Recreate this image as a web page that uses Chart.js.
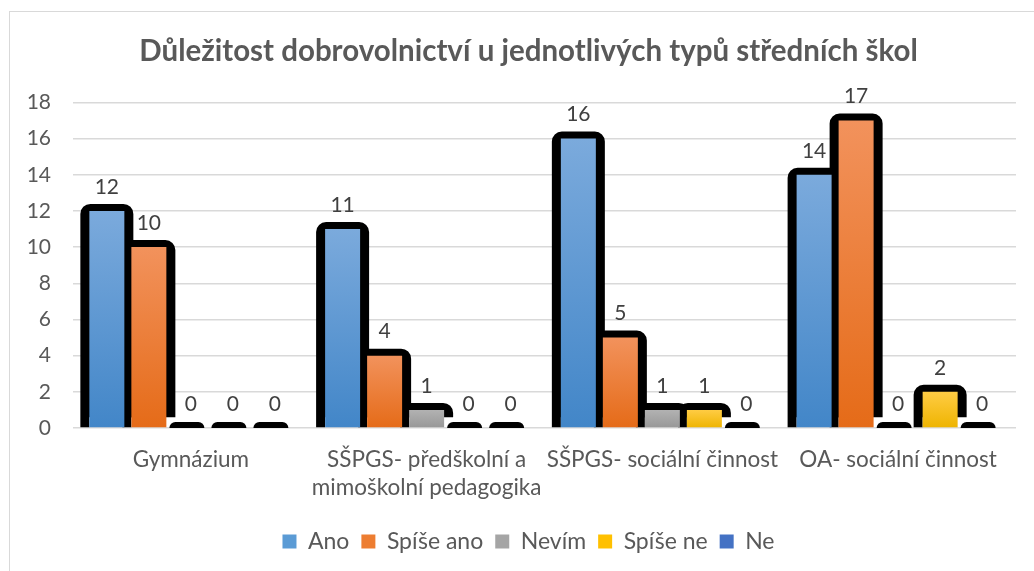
<!DOCTYPE html>
<html>
<head>
<meta charset="utf-8">
<script src="https://cdn.jsdelivr.net/npm/chart.js@4.4.1/dist/chart.umd.min.js"></script>
<style>
  html, body { margin: 0; padding: 0; background: #ffffff; }
  #wrap { position: relative; width: 1034px; height: 571px; }
</style>
</head>
<body>
<div id="wrap"><canvas id="c" width="1034" height="571"></canvas></div>
<script>
const categories = ["Gymnázium", ["SŠPGS- předškolní a", "mimoškolní pedagogika"], "SŠPGS- sociální činnost", "OA- sociální činnost"];
const seriesNames = ["Ano", "Spíše ano", "Nevím", "Spíše ne", "Ne"];
const ano = [12, 11, 16, 14];
const spiseAno = [10, 4, 5, 17];
const nevim = [0, 1, 1, 0];
const spiseNe = [0, 0, 1, 2];
const ne = [0, 0, 0, 0];
const yTicks = [0, 2, 4, 6, 8, 10, 12, 14, 16, 18];

const gradStops = [
  ["#7BAADC", "#4286C8"],
  ["#F2925C", "#E56B18"],
  ["#B2B2B2", "#979797"],
  ["#FFCC44", "#EEB400"],
  ["#4A78C8", "#2E5BAE"]
];
const legendColors = ["#5B9BD5", "#ED7D31", "#A5A5A5", "#FFC000", "#4472C4"];

const FONT = "Lato, 'Open Sans', sans-serif";
const TXT = "#595959";

function barGradient(i) {
  return function (ctx) {
    const chart = ctx.chart;
    if (!chart.chartArea || ctx.dataIndex === undefined) return legendColors[i];
    const y = chart.scales.y;
    const v = ctx.raw || 0;
    const top = y.getPixelForValue(v);
    const base = y.getPixelForValue(0);
    if (!(base - top > 0)) return gradStops[i][1];
    const g = chart.ctx.createLinearGradient(0, top, 0, base);
    g.addColorStop(0, gradStops[i][0]);
    g.addColorStop(1, gradStops[i][1]);
    return g;
  };
}

const values = [ano, spiseAno, nevim, spiseNe, ne];

const framePlugin = {
  id: "frame",
  beforeDraw(chart) {
    const c = chart.ctx;
    c.save();
    c.fillStyle = "#ffffff";
    c.fillRect(0, 0, chart.width, chart.height);
    c.strokeStyle = "#D9D9D9";
    c.lineWidth = 1;
    c.strokeRect(9.5, 11.5, 1100, 700);
    c.restore();
  }
};

const shadowPlugin = {
  id: "shadow",
  beforeDatasetsDraw(chart) {
    const c = chart.ctx;
    c.save();
    c.fillStyle = "#000000";
    chart.data.datasets.forEach((ds, di) => {
      const meta = chart.getDatasetMeta(di);
      meta.data.forEach((el, idx) => {
        const v = ds.data[idx];
        const w = el.width;
        const left = el.x - w / 2;
        const top = el.y;
        const base = el.base;
        c.beginPath();
        if (v > 0) {
          c.roundRect(left - 9, top - 7, w + 18, (base - 10) - (top - 7), [10, 10, 0, 0]);
          c.rect(left - 9, top + 3, 9, base - top - 3);
        } else {
          c.roundRect(left - 4, base - 6, w, 6, [7, 7, 0, 0]);
        }
        c.fill();
      });
    });
    c.restore();
  }
};

const labelPlugin = {
  id: "vlabels",
  afterDatasetsDraw(chart) {
    const c = chart.ctx;
    c.save();
    c.fillStyle = "#404040";
    c.font = "21px " + FONT;
    c.textAlign = "center";
    c.textBaseline = "middle";
    chart.data.datasets.forEach((ds, di) => {
      const meta = chart.getDatasetMeta(di);
      meta.data.forEach((el, idx) => {
        c.fillText(String(ds.data[idx]), el.x, el.y - 24);
      });
    });
    c.restore();
  }
};

new Chart(document.getElementById("c"), {
  type: "bar",
  data: {
    labels: categories,
    datasets: seriesNames.map((n, i) => ({
      label: n,
      data: values[i],
      backgroundColor: barGradient(i),
      borderWidth: 0,
      categoryPercentage: 0.891,
      barPercentage: 0.833
    }))
  },
  options: {
    responsive: false,
    animation: false,
    devicePixelRatio: 1,
    layout: { padding: { left: 0, right: -23, top: 0, bottom: 8 } },
    plugins: {
      title: {
        display: true,
        text: "Důležitost dobrovolnictví u jednotlivých typů středních škol",
        color: TXT,
        font: { family: FONT, size: 29.5, weight: "bold", lineHeight: 1.2 },
        padding: { top: 34, bottom: 33 }
      },
      legend: {
        position: "bottom",
        labels: {
          color: TXT,
          font: { family: FONT, size: 23 },
          boxWidth: 14,
          boxHeight: 14,
          padding: 12,
          generateLabels(chart) {
            return chart.data.datasets.map((ds, i) => ({
              text: ds.label,
              fillStyle: legendColors[i],
              strokeStyle: legendColors[i],
              lineWidth: 0,
              hidden: false,
              datasetIndex: i,
              fontColor: TXT
            }));
          }
        }
      },
      tooltip: { enabled: false }
    },
    scales: {
      x: {
        grid: { display: false, drawTicks: false },
        border: { display: false },
        ticks: {
          color: TXT,
          font: { family: FONT, size: 22.5, lineHeight: 1.24 },
          padding: 18,
          maxRotation: 0,
          autoSkip: false
        },
        afterFit(scale) { scale.height = 90; }
      },
      y: {
        min: 0,
        max: 18,
        afterBuildTicks(scale) { scale.ticks = yTicks.map(v => ({ value: v })); },
        grid: { color: "#D9D9D9", lineWidth: 1.5, drawTicks: false },
        border: { display: false },
        ticks: {
          color: TXT,
          font: { family: FONT, size: 21 },
          padding: 22
        },
        afterFit(scale) { scale.width = 73; }
      },
      yRight: {
        position: "right",
        min: 0,
        max: 18,
        grid: { display: false, drawTicks: false },
        border: { display: false },
        ticks: { display: false },
        afterFit(scale) { scale.width = 41; }
      }
    }
  },
  plugins: [framePlugin, shadowPlugin, labelPlugin]
});
</script>
</body>
</html>
